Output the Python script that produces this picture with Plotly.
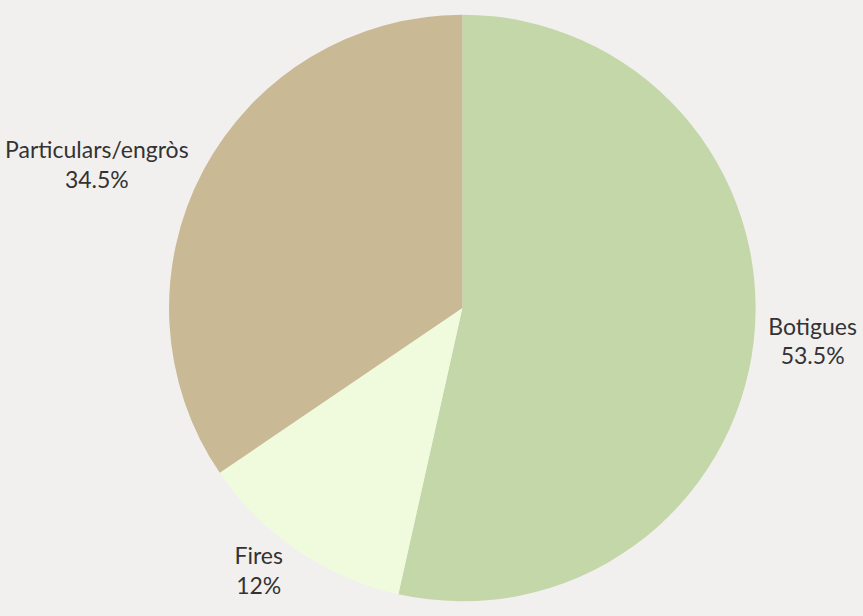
import plotly.graph_objects as go

labels = ["Botigues", "Fires", "Particulars/engròs"]
values = [53.5, 12, 34.5]
pct_text = ["53.5%", "12%", "34.5%"]
colors = ["#c4d7a8", "#f0fbdd", "#c9b994"]

W, H = 863, 616
cx, cy, r = 460, 308, 295

fig = go.Figure(go.Pie(
    labels=labels,
    values=values,
    text=pct_text,
    texttemplate="%{label}<br>%{text}",
    textinfo="text",
    textposition="outside",
    sort=False,
    direction="clockwise",
    rotation=0,
    marker=dict(colors=colors, line=dict(width=0)),
    textfont=dict(family="Lato", size=23, color="#333333"),
    showlegend=False,
    hoverinfo="label+percent",
    domain=dict(x=[(cx - r) / W, (cx + r) / W], y=[0, 1]),
))

fig.update_layout(
    width=W, height=H,
    margin=dict(l=0, r=0, t=13, b=13),
    paper_bgcolor="#f1f0ef",
    plot_bgcolor="#f1f0ef",
)

fig.write_html(
    "out.html",
    config={"displayModeBar": False},
    post_script="document.body.style.margin='0';document.body.style.background='#f1f0ef';",
)
